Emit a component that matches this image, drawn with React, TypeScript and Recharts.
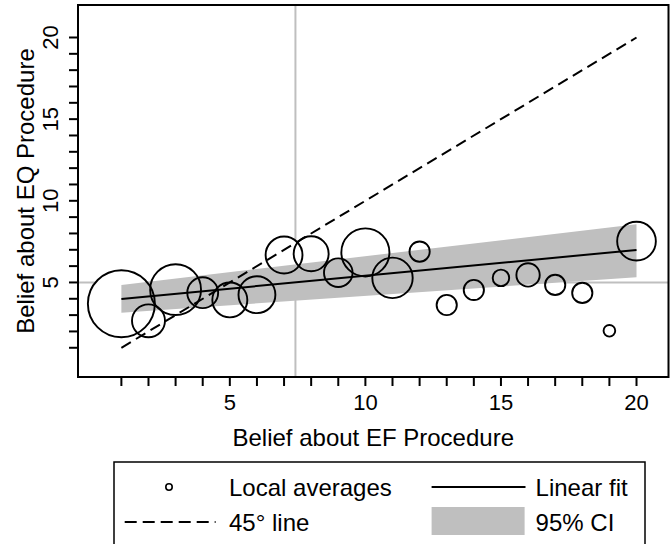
import React from 'react';
import {
  ComposedChart,
  Scatter,
  Line,
  Area,
  XAxis,
  YAxis,
  ZAxis,
  ReferenceLine,
  ReferenceArea,
  Legend,
  Label,
} from 'recharts';

// ---------- data ----------
const efBelief = [1, 2, 3, 4, 5, 6, 7, 8, 9, 10, 11, 12, 13, 14, 15, 16, 17, 18, 19, 20];
const eqBelief = [3.70, 2.65, 4.56, 4.37, 3.93, 4.25, 6.68, 6.76, 5.60, 6.84, 5.28, 6.89, 3.62, 4.54, 5.28, 5.46, 4.85, 4.36, 2.04, 7.53];
const binCounts = [33, 8, 19, 7, 9, 10, 10, 9, 6, 17, 12, 3, 3, 3, 2, 4, 3, 3, 1, 11];

const fitX = [1, 20];
const fitY = [3.99, 6.99];
const ciLow = [3.15, 5.32];
const ciHigh = [4.85, 8.56];
const diagY = [1, 20];

const efMean = 7.42;
const eqRef = 5;

const xTicks = [1, 2, 3, 4, 5, 6, 7, 8, 9, 10, 11, 12, 13, 14, 15, 16, 17, 18, 19, 20];
const yTicks = [1, 2, 3, 4, 5, 6, 7, 8, 9, 10, 11, 12, 13, 14, 15, 16, 17, 18, 19, 20];
const labeledTicks = [5, 10, 15, 20];

const xDomain = [-0.6, 21.18];
const yDomain = [-0.79, 21.99];
const countDomain = [0, 33];

const xTitle = 'Belief about EF Procedure';
const yTitle = 'Belief about EQ Procedure';
const legendNames = ['Local averages', 'Linear fit', '45° line', '95% CI'];

// ---------- table ----------
type Row = { x: number; y: number; n: number; fit?: number; diag?: number; ci?: [number, number] };
const rows: Row[] = efBelief.map((x, i) => ({ x, y: eqBelief[i], n: binCounts[i] }));
fitX.forEach((x, j) => {
  const r = rows.find((row) => row.x === x);
  if (r) {
    r.fit = fitY[j];
    r.diag = diagY[j];
    r.ci = [ciLow[j], ciHigh[j]];
  }
});

// ---------- styles ----------
const FONT = '"Liberation Sans", Arial, Helvetica, sans-serif';
const GRAY = '#bfbfbf';

const radiusOf = (p: any) =>
  p.width ? p.width / 2 : Math.sqrt((p.size ?? 64) / Math.PI);

const FilledBubble = (p: any) => (
  <circle cx={p.cx} cy={p.cy} r={radiusOf(p)} fill="#ffffff" stroke="none" />
);
const OutlineBubble = (p: any) => (
  <circle cx={p.cx} cy={p.cy} r={radiusOf(p)} fill="none" stroke="#000" strokeWidth={1.9} />
);

const XTick = (p: any) => {
  const v = p.payload?.value;
  if (!labeledTicks.includes(v)) return <g />;
  return (
    <text x={p.x} y={p.y + 16} textAnchor="middle" fontSize={22} fontFamily={FONT} fill="#000">
      {v}
    </text>
  );
};

const YTick = (p: any) => {
  const v = p.payload?.value;
  if (!labeledTicks.includes(v)) return <g />;
  return (
    <text
      x={p.x}
      y={p.y}
      transform={`rotate(-90, ${p.x}, ${p.y})`}
      textAnchor="middle"
      fontSize={22}
      fontFamily={FONT}
      fill="#000"
    >
      {v}
    </text>
  );
};

const XTitle = (p: any) => {
  const vb = p.viewBox || { x: 78, y: 377, width: 590, height: 167 };
  return (
    <text
      x={vb.x + vb.width / 2}
      y={vb.y + 69}
      textAnchor="middle"
      fontSize={24}
      fontFamily={FONT}
      fill="#000"
    >
      {xTitle}
    </text>
  );
};

const YTitle = (p: any) => {
  const vb = p.viewBox || { x: 0, y: 5, width: 78, height: 372 };
  const cx = vb.x + 34;
  const cy = vb.y + vb.height / 2;
  return (
    <text
      x={cx}
      y={cy}
      transform={`rotate(-90, ${cx}, ${cy})`}
      textAnchor="middle"
      fontSize={24}
      fontFamily={FONT}
      fill="#000"
    >
      {yTitle}
    </text>
  );
};

const LegendBox = () => (
  <svg width={533} height={95} style={{ display: 'block', overflow: 'visible' }}>
    <rect x={1} y={1} width={531} height={110} fill="#fff" stroke="#000" strokeWidth={1.5} />
    <circle cx={56} cy={26} r={3.2} fill="none" stroke="#000" strokeWidth={1.6} />
    <text x={116} y={34.5} fontSize={24} fontFamily={FONT} fill="#000">
      {legendNames[0]}
    </text>
    <line x1={318.6} x2={412.5} y1={26} y2={26} stroke="#000" strokeWidth={2} />
    <text x={422.6} y={34.5} fontSize={24} fontFamily={FONT} fill="#000">
      {legendNames[1]}
    </text>
    <line x1={11.7} x2={102.6} y1={61} y2={61} stroke="#000" strokeWidth={2} strokeDasharray="12 6" />
    <text x={116} y={70} fontSize={24} fontFamily={FONT} fill="#000">
      {legendNames[2]}
    </text>
    <rect x={318.6} y={46} width={93} height={28} fill={GRAY} />
    <text x={422.6} y={70} fontSize={24} fontFamily={FONT} fill="#000">
      {legendNames[3]}
    </text>
  </svg>
);

export default function App() {
  return (
    <div
      style={{
        position: 'absolute',
        left: 0,
        top: 0,
        width: 670,
        height: 544,
        overflow: 'hidden',
        background: '#fff',
        fontFamily: FONT,
      }}
    >
      <ComposedChart
        width={670}
        height={544}
        data={rows}
        margin={{ top: 5, right: 1.5, left: 0, bottom: 0 }}
      >
        <XAxis
          dataKey="x"
          type="number"
          domain={xDomain}
          allowDataOverflow
          ticks={xTicks}
          interval={0}
          height={167}
          axisLine={false}
          tickLine={{ stroke: '#000', strokeWidth: 2 }}
          tickSize={9}
          tickMargin={8}
          tick={<XTick />}
        >
          <Label content={<XTitle />} />
        </XAxis>
        <YAxis
          type="number"
          domain={yDomain}
          allowDataOverflow
          ticks={yTicks}
          interval={0}
          width={78}
          axisLine={false}
          tickLine={{ stroke: '#000', strokeWidth: 2 }}
          tickSize={9}
          tickMargin={11}
          tick={<YTick />}
        >
          <Label content={<YTitle />} />
        </YAxis>
        <ZAxis dataKey="n" type="number" domain={countDomain} range={[0, 3526]} />

        <ReferenceLine x={efMean} stroke={GRAY} strokeWidth={2} zIndex={1} />
        <ReferenceLine y={eqRef} stroke={GRAY} strokeWidth={2} zIndex={1} />

        <Scatter dataKey="y" shape={<FilledBubble />} isAnimationActive={false} zIndex={2} />
        <Area
          dataKey="ci"
          type="linear"
          fill={GRAY}
          fillOpacity={1}
          stroke="none"
          connectNulls
          dot={false}
          activeDot={false}
          isAnimationActive={false}
          zIndex={3}
        />
        <Scatter dataKey="y" shape={<OutlineBubble />} isAnimationActive={false} zIndex={4} />
        <Line
          dataKey="fit"
          type="linear"
          stroke="#000"
          strokeWidth={2}
          dot={false}
          activeDot={false}
          connectNulls
          isAnimationActive={false}
          zIndex={5}
        />
        <Line
          dataKey="diag"
          type="linear"
          stroke="#000"
          strokeWidth={2}
          strokeDasharray="11 6"
          dot={false}
          activeDot={false}
          connectNulls
          isAnimationActive={false}
          zIndex={6}
        />
        <ReferenceArea
          x1={xDomain[0]}
          x2={xDomain[1]}
          y1={yDomain[0]}
          y2={yDomain[1]}
          fill="none"
          stroke="#000"
          strokeWidth={2}
          ifOverflow="visible"
          zIndex={7}
        />
        <Legend
          layout="vertical"
          align="center"
          verticalAlign="middle"
          content={<LegendBox />}
          wrapperStyle={{ position: 'absolute', left: 113, top: 461, width: 533, height: 95 }}
        />
      </ComposedChart>
    </div>
  );
}
